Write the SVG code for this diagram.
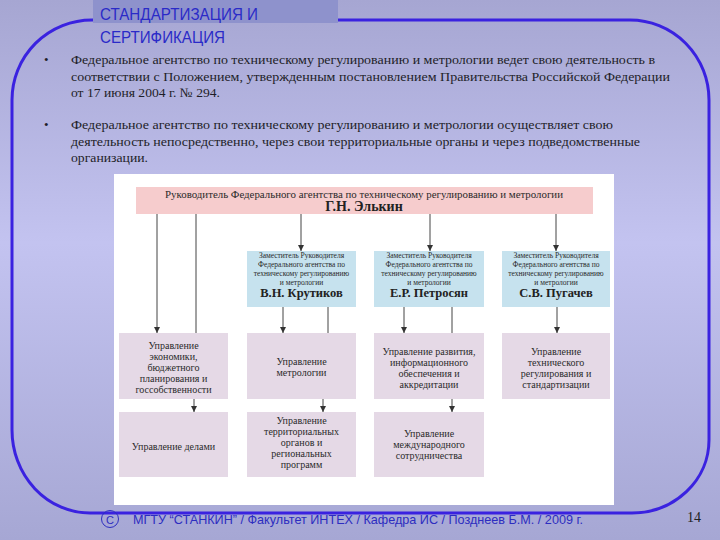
<svg xmlns="http://www.w3.org/2000/svg" width="720" height="540" viewBox="0 0 720 540">
<defs>
<linearGradient id="bg" x1="0" y1="0" x2="0" y2="1">
<stop offset="0" stop-color="#a6a6d2"/>
<stop offset="0.45" stop-color="#c3c3f0"/>
<stop offset="1" stop-color="#a6a7d4"/>
</linearGradient>
<marker id="ah" markerUnits="userSpaceOnUse" markerWidth="7" markerHeight="7" refX="6" refY="3" orient="auto">
<path d="M0,0 L6,3 L0,6 z" fill="#333"/>
</marker>
<style>
.body{font-family:"Liberation Serif","DejaVu Serif",serif;font-size:13px;fill:#1e1e28}
.title{font-family:"Liberation Sans","DejaVu Sans",sans-serif;font-size:16px;fill:#2a2ac8}
.foot{font-family:"Liberation Sans","DejaVu Sans",sans-serif;font-size:13px;fill:#2d2dc0}
.hdr{fill:#f6cccd}
.blue{fill:#c6e2ee}
.unit{fill:#e5d9e6}
.t{font-family:"Liberation Serif","DejaVu Serif",serif;font-size:10px;fill:#2a2a2a;text-anchor:middle}
.ts{font-family:"Liberation Serif","DejaVu Serif",serif;font-size:7.5px;fill:#2a2a2a;text-anchor:middle}
.tn{font-family:"Liberation Serif","DejaVu Serif",serif;font-size:12.5px;font-weight:bold;fill:#222;text-anchor:middle}
.c{stroke:#444;stroke-width:1;fill:none}
.ca{stroke:#444;stroke-width:1;fill:none;marker-end:url(#ah)}
</style>
</defs>
<rect x="0" y="0" width="720" height="540" fill="url(#bg)"/>
<path d="M92,20 L630,20 A79,80 0 0 1 709,100 L709,440 A77,73 0 0 1 632,513 L90,513 A78,83 0 0 1 12,430 L12,100 A80,80 0 0 1 92,20 Z" fill="none" stroke="#3a22e0" stroke-width="3"/>
<rect x="93" y="0" width="245" height="23" fill="#8e92cc"/>
<text class="title" x="100" y="20" textLength="158" lengthAdjust="spacingAndGlyphs">СТАНДАРТИЗАЦИЯ И</text>
<text class="title" x="100" y="43" textLength="125" lengthAdjust="spacingAndGlyphs">СЕРТИФИКАЦИЯ</text>

<text class="body" x="44" y="64">•</text>
<text class="body" x="71" y="64" textLength="584" lengthAdjust="spacingAndGlyphs">Федеральное агентство по техническому регулированию и метрологии ведет свою деятельность в</text>
<text class="body" x="71" y="80.5" textLength="599" lengthAdjust="spacingAndGlyphs">соответствии с Положением, утвержденным постановлением Правительства Российской Федерации</text>
<text class="body" x="71" y="97" textLength="149" lengthAdjust="spacingAndGlyphs">от 17 июня 2004 г. № 294.</text>
<text class="body" x="44" y="129">•</text>
<text class="body" x="71" y="129" textLength="542" lengthAdjust="spacingAndGlyphs">Федеральное агентство по техническому регулированию и метрологии осуществляет свою</text>
<text class="body" x="71" y="146" textLength="569" lengthAdjust="spacingAndGlyphs">деятельность непосредственно, через свои территориальные органы и через подведомственные</text>
<text class="body" x="71" y="162" textLength="77" lengthAdjust="spacingAndGlyphs">организации.</text>

<rect x="114" y="174" width="500" height="331" fill="#ffffff"/>

<g id="head">
<rect class="hdr" x="136" y="187" width="457" height="27"/>
<text class="ts" x="364" y="198" style="font-size:9.5px" textLength="398" lengthAdjust="spacingAndGlyphs">Руководитель Федерального агентства по техническому регулированию и метрологии</text>
<text class="tn" x="364" y="211" style="font-size:14px">Г.Н. Элькин</text>
</g>

<g id="dep1">
<rect class="blue" x="247" y="251" width="109" height="56"/>
<text class="ts" x="301.5" y="258">Заместитель Руководителя</text>
<text class="ts" x="301.5" y="267">Федерального агентства по</text>
<text class="ts" x="301.5" y="276">техническому регулированию</text>
<text class="ts" x="301.5" y="284.5">и метрологии</text>
<text class="tn" x="301.5" y="297">В.Н. Крутиков</text>
</g>
<g id="dep2">
<rect class="blue" x="374" y="251" width="110" height="56"/>
<text class="ts" x="429" y="258">Заместитель Руководителя</text>
<text class="ts" x="429" y="267">Федерального агентства по</text>
<text class="ts" x="429" y="276">техническому регулированию</text>
<text class="ts" x="429" y="284.5">и метрологии</text>
<text class="tn" x="429" y="297">Е.Р. Петросян</text>
</g>
<g id="dep3">
<rect class="blue" x="502" y="251" width="108" height="56"/>
<text class="ts" x="556" y="258">Заместитель Руководителя</text>
<text class="ts" x="556" y="267">Федерального агентства по</text>
<text class="ts" x="556" y="276">техническому регулированию</text>
<text class="ts" x="556" y="284.5">и метрологии</text>
<text class="tn" x="556" y="297">С.В. Пугачев</text>
</g>

<g id="u-econ">
<rect class="unit" x="119" y="333" width="109" height="66"/>
<text class="t" x="173.5" y="348.5">Управление</text>
<text class="t" x="173.5" y="359.5">экономики,</text>
<text class="t" x="173.5" y="370.5">бюджетного</text>
<text class="t" x="173.5" y="381.5">планирования и</text>
<text class="t" x="173.5" y="392.5">госсобственности</text>
</g>
<g id="u-metr">
<rect class="unit" x="247" y="333" width="109" height="66"/>
<text class="t" x="301.5" y="364.5">Управление</text>
<text class="t" x="301.5" y="375.5">метрологии</text>
</g>
<g id="u-dev">
<rect class="unit" x="374" y="333" width="110" height="66"/>
<text class="t" x="429" y="354.5">Управление развития,</text>
<text class="t" x="429" y="365.5">информационного</text>
<text class="t" x="429" y="376.5">обеспечения и</text>
<text class="t" x="429" y="387.5">аккредитации</text>
</g>
<g id="u-tech">
<rect class="unit" x="502" y="333" width="108" height="66"/>
<text class="t" x="556" y="354.5">Управление</text>
<text class="t" x="556" y="365.5">технического</text>
<text class="t" x="556" y="376.5">регулирования и</text>
<text class="t" x="556" y="387.5">стандартизации</text>
</g>
<g id="u-del">
<rect class="unit" x="119" y="412" width="109" height="65"/>
<text class="t" x="173.5" y="449.5">Управление делами</text>
</g>
<g id="u-terr">
<rect class="unit" x="247" y="412" width="109" height="65"/>
<text class="t" x="301.5" y="423.5">Управление</text>
<text class="t" x="301.5" y="434.5">территориальных</text>
<text class="t" x="301.5" y="445.5">органов и</text>
<text class="t" x="301.5" y="456.5">региональных</text>
<text class="t" x="301.5" y="467.5">программ</text>
</g>
<g id="u-int">
<rect class="unit" x="374" y="412" width="110" height="65"/>
<text class="t" x="429" y="436.5">Управление</text>
<text class="t" x="429" y="447.5">международного</text>
<text class="t" x="429" y="458.5">сотрудничества</text>
</g>

<g id="connectors">
<line class="ca" x1="157" y1="214" x2="157" y2="333"/>
<line class="c" x1="196" y1="214" x2="196" y2="333"/>
<line class="ca" x1="301" y1="214" x2="301" y2="251"/>
<line class="ca" x1="430" y1="214" x2="430" y2="251"/>
<line class="ca" x1="556" y1="214" x2="556" y2="251"/>
<line class="ca" x1="283" y1="307" x2="283" y2="333"/>
<line class="c" x1="328" y1="307" x2="328" y2="333"/>
<line class="ca" x1="404" y1="307" x2="404" y2="333"/>
<line class="c" x1="452" y1="307" x2="452" y2="333"/>
<line class="ca" x1="557" y1="307" x2="557" y2="333"/>
<line class="ca" x1="194" y1="399" x2="194" y2="412"/>
<line class="ca" x1="323" y1="399" x2="323" y2="412"/>
<line class="ca" x1="452" y1="399" x2="452" y2="412"/>
</g>

<circle cx="110" cy="519" r="8.5" fill="none" stroke="#2d2dc0" stroke-width="1"/>
<text class="foot" x="110" y="523.5" text-anchor="middle" style="font-size:11px">C</text>
<text class="foot" x="133" y="524" textLength="450" lengthAdjust="spacingAndGlyphs">МГТУ “СТАНКИН” / Факультет ИНТЕХ / Кафедра ИС / Позднеев Б.М. / 2009 г.</text>
<text x="687" y="522" style="font-family:'Liberation Serif',serif;font-size:14px;fill:#222">14</text>
</svg>
